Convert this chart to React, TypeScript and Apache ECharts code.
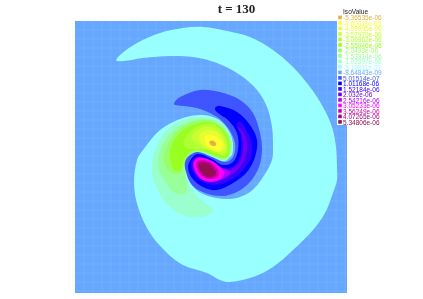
import React, { useEffect, useRef } from "react";
import * as echarts from "echarts";

const titleText = "t = 130";
const legendTitle = "IsoValue";
const isoLabels = ["-5.36535e-06","-4.60011e-06","-4.08995e-06","-3.57979e-06","-3.06962e-06","-2.55946e-06","-2.0493e-06","-1.53914e-06","-1.02897e-06","-5.18811e-07","-8.64843e-09","5.01514e-07","1.01168e-06","1.52184e-06","2.032e-06","2.54216e-06","3.05233e-06","3.56249e-06","4.07265e-06","5.34806e-06"];
const isoColors = ["#e8b040","#ffff30","#e4ff30","#ccff30","#b0ff30","#99ff20","#99ff66","#99ff99","#99ffcc","#99ffff","#66a8ff","#3f55ff","#0000ff","#3800ff","#7000f0","#b000ff","#ff00ff","#d000b0","#b00080","#901050"];

const level0 = [[210,141],[214,141],[216,145],[213,146],[210,144]];
const level1 = [[205,137],[212,135],[220,140],[222,148],[216,150],[208,146]];
const level2 = [[200,135],[208,130],[218,133],[224,142],[224,150],[218,152],[208,149],[201,143]];
const level3 = [[192,136],[204,127],[216,129],[225,140],[226,150],[222,154],[212,150],[200,146]];
const level4 = [[184,140],[196,127],[212,124],[223,132],[228,146],[226,155],[220,155],[206,150],[194,149],[186,148]];
const level5 = [[170,152],[177,136],[190,126],[208,122],[222,128],[229,142],[229,153],[225,158],[214,155],[200,150],[190,152],[184,160],[180,170],[174,170]];
const level6 = [[164,160],[170,140],[184,126],[204,120],[220,126],[230,140],[230,152],[225,159],[212,155],[198,151],[188,156],[184,166],[182,172],[174,174],[168,170]];
const level7 = [[158,165],[163,143],[178,127],[202,119],[221,124],[231,140],[231,152],[225,160],[212,156],[198,152],[188,158],[185,170],[187,186],[184,194],[174,192],[164,180]];
const level8 = [[152,170],[157,145],[174,124],[200,117],[221,122],[232,140],[232,152],[225,161],[212,157],[198,153],[189,160],[187,176],[192,190],[202,201],[212,208],[212,213],[200,217],[183,215],[167,204],[157,188]];
const level9 = [[117,61],[120,55],[137,43],[160,33],[183,28],[203,27],[227,31],[250,37],[273,50],[293,67],[310,87],[323,107],[332,127],[336,147],[337,167],[337,180],[333,193],[325,213],[313,230],[293,250],[273,267],[253,277],[230,282],[220,280],[207,273],[183,265],[167,253],[150,233],[138,207],[134,183],[137,160],[143,150],[160,130],[183,118],[203,115],[219,120],[230,133],[233,147],[230,157],[212,157],[196,152],[187,165],[190,182],[203,194],[230,199],[250,192],[263,177],[272,160],[273,145],[272,127],[267,107],[257,90],[240,75],[217,63],[193,57],[170,56],[143,58]];
const level10 = [[75,21],[347,21],[347,293],[75,293]];
const level11 = [[174,103],[180,97],[200,90],[220,92],[240,100],[253,113],[260,133],[262,150],[259,167],[250,182],[237,192],[222,196],[205,193],[192,185],[186,172],[185,162],[190,155],[198,152],[212,157],[225,162],[233,157],[235,143],[228,128],[217,117],[197,108],[175,105]];
const level12 = [[215,108],[220,106],[237,112],[250,125],[257,140],[255,157],[247,172],[233,183],[217,190],[203,187],[192,178],[188,167],[192,158],[198,154],[212,159],[223,165],[233,162],[238,150],[237,133],[228,120],[218,113]];
const level13 = [[238,122],[248,133],[252,145],[250,160],[240,173],[227,182],[214,185],[201,181],[193,172],[191,164],[194,158],[200,157],[212,162],[224,168],[235,165],[241,152],[241,135]];
const level14 = [[238,127],[246,138],[247,152],[240,167],[228,177],[214,181],[202,178],[194,170],[193,162],[199,158],[212,164],[226,170],[238,164],[243,150],[242,136]];
const level15 = [[193,163],[198,157],[210,161],[222,168],[230,172],[224,178],[212,181],[201,179],[195,172]];
const level16 = [[194,163],[199,158],[210,160],[220,167],[224,174],[217,181],[205,181],[197,174]];
const level17 = [[196,163],[200,160],[210,162],[217,168],[219,175],[212,179],[203,177],[198,171]];
const level18 = [[198,165],[201,162],[209,163],[215,169],[216,175],[209,178],[202,174]];
const level19 = [[199,166],[202,164],[208,165],[213,170],[214,175],[208,176],[202,172]];
const levelShapes = [level0,level1,level2,level3,level4,level5,level6,level7,level8,level9,level10,level11,level12,level13,level14,level15,level16,level17,level18,level19];
const drawOrder = [10,9,8,7,6,5,4,3,2,1,0,11,12,13,14,15,16,17,18,19];
const meshLines = [84,93,102,111,120,129,138,147,156,165,174,183,192,201,210,219,228,237,246,255,264,273,282,291,300,309,318,327,336,345];

function closedCurve(pts: number[][]) {
  const n = pts.length;
  const tangent = (i: number) => {
    const a = pts[(i - 1 + n) % n], b = pts[(i + 1) % n];
    const dx = b[0] - a[0], dy = b[1] - a[1], l = Math.hypot(dx, dy) || 1;
    return [dx / l, dy / l];
  };
  let d = `M${pts[0][0]} ${pts[0][1]}`;
  for (let i = 0; i < n; i++) {
    const p = pts[i], q = pts[(i + 1) % n];
    const s = Math.hypot(q[0] - p[0], q[1] - p[1]) / 3;
    const t0 = tangent(i), t1 = tangent((i + 1) % n);
    d += `C${p[0] + t0[0] * s} ${p[1] + t0[1] * s} ${q[0] - t1[0] * s} ${q[1] - t1[1] * s} ${q[0]} ${q[1]}`;
  }
  return d + "Z";
}

export default function App() {
  const ref = useRef<HTMLDivElement>(null);
  useEffect(() => {
    document.body.style.margin = "0";
    const chart = echarts.init(ref.current!, null, { renderer: "svg" });
    const series = drawOrder.map((i, order) => ({
      type: "custom",
      name: isoLabels[i],
      coordinateSystem: "cartesian2d",
      z: 2 + order,
      silent: true,
      data: levelShapes[i],
      encode: { x: 0, y: 1 },
      renderItem: (params: any, api: any) => {
        if (params.dataIndex !== 0) return null;
        const pts = levelShapes[i].map((p) => api.coord(p));
        if (i !== 10) {
          return { type: "path", shape: { pathData: closedCurve(pts) }, style: { fill: isoColors[i] } };
        }
        const line = (a: number[], b: number[]) => {
          const p = api.coord(a), q = api.coord(b);
          return { type: "line", shape: { x1: p[0], y1: p[1], x2: q[0], y2: q[1] }, style: { stroke: "rgba(255,255,255,0.07)", lineWidth: 1 } };
        };
        const mesh = meshLines.flatMap((v) => [line([v, 21], [v, 293]), line([75, v - 54], [347, v - 54])]);
        return { type: "group", children: [{ type: "polygon", shape: { points: pts }, style: { fill: isoColors[i] } }, ...mesh] };
      },
    }));
    const legendItems: any[] = [
      { type: "rect", shape: { x: 337, y: 15, width: 10, height: 110 }, style: { fill: "#fff" }, z: 100 },
      { type: "text", x: 343, y: 7.5, z: 101, style: { text: legendTitle, fontFamily: "Liberation Sans", fontSize: 6.6, fill: "#222" } },
    ];
    isoLabels.forEach((label, i) => {
      const y = 17.3 + i * 5.5;
      legendItems.push({ type: "rect", z: 101, shape: { x: 338.2, y: y - 1.7, width: 3.6, height: 3.6 }, style: { fill: isoColors[i] } });
      legendItems.push({ type: "text", z: 101, x: 343, y: y - 3.2, style: { text: label, fontFamily: "Liberation Sans", fontSize: 6.5, fill: isoColors[i] } });
    });
    chart.setOption({
      animation: false,
      backgroundColor: "#fff",
      title: {
        text: titleText, left: 236.5, top: 2, padding: 0, textAlign: "center",
        textStyle: { fontFamily: "Liberation Serif", fontWeight: "bold", fontSize: 13, color: "#222" },
      },
      grid: { left: 75, top: 21, width: 272, height: 272, show: false },
      xAxis: { type: "value", min: 75, max: 347, show: false },
      yAxis: { type: "value", min: 21, max: 293, inverse: true, show: false },
      graphic: legendItems,
      series,
    });
    return () => chart.dispose();
  }, []);
  return <div ref={ref} style={{ position: "fixed", left: 0, top: 0, width: 423, height: 299, filter: "blur(0.5px)" }} />;
}
